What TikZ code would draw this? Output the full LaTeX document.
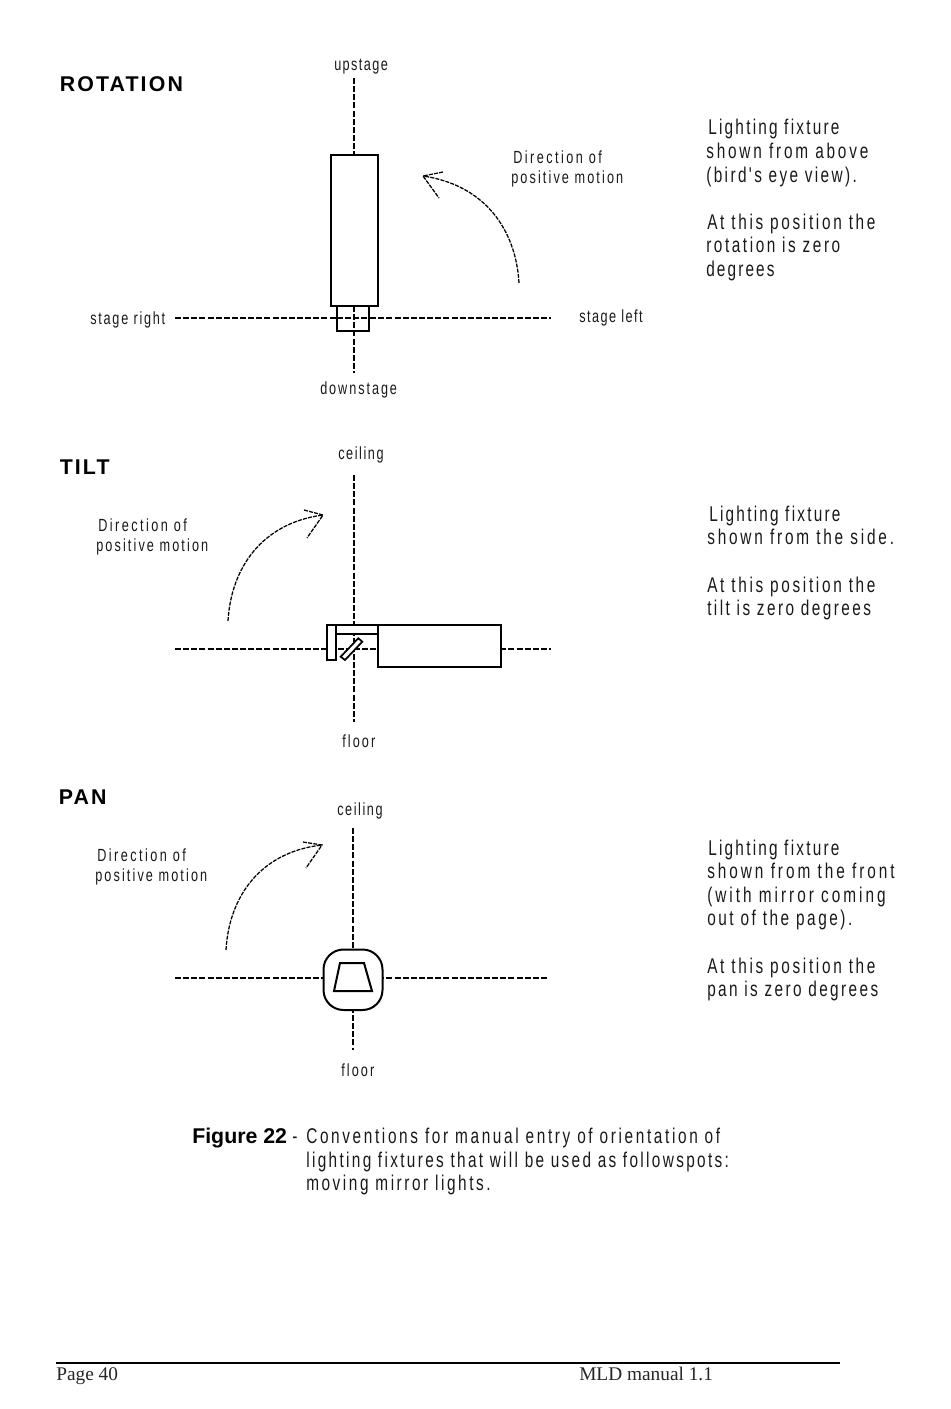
\documentclass[tikz,border=0pt]{standalone}
\usepackage{fontspec}
\setmainfont{Liberation Sans}
\newfontfamily\narrowlab[FakeStretch=0.72,LetterSpace=12]{Liberation Sans}
\newfontfamily\headlab[LetterSpace=10]{Liberation Sans}
\newfontfamily\footlab{Liberation Serif}
\tikzset{
  small/.style={font=\narrowlab\fontsize{13.2pt}{15pt}\selectfont\addfontfeature{LetterSpace=#1},anchor=base west,inner sep=0pt,text=black!90},
  small/.default=12,
  big/.style={font=\narrowlab\fontsize{16pt}{18pt}\selectfont\addfontfeature{LetterSpace=#1},anchor=base west,inner sep=0pt,text=black!90},
  big/.default=12,
  head/.style={font=\headlab\bfseries\fontsize{16pt}{18pt}\selectfont,anchor=base west,inner sep=0pt},
  foot/.style={font=\footlab\fontsize{14.5pt}{16pt}\selectfont,anchor=base west,inner sep=0pt,text=black!85},
  axis/.style={line width=0.9pt,dash pattern=on 4.5pt off 1.6pt},
  motion/.style={line width=0.95pt,dash pattern=on 3pt off 0.9pt},
  part/.style={line width=1.5pt,draw=black,fill=white},
}
\begin{document}
\begin{tikzpicture}[x=0.75pt,y=-0.75pt]
\useasboundingbox (0,0) rectangle (950,1409);
% ROTATION
\node[head] (hrot) at (59.5,91.5) {ROTATION};
\node[small=8] (up) at (334,70.5) {upstage};
\node[small=11] (dn) at (320,394.5) {downstage};
\node[small=10] (sr) at (90,324.5) {stage right};
\node[small=8.5] (sl) at (579,322.5) {stage left};
\node[small=14] (d1a) at (513,163.5) {Direction of};
\node[small] (d1b) at (511,183.5) {positive motion};
\coordinate (rt) at (354,78);
\coordinate (rb) at (354,373);
\coordinate (rl) at (175,318);
\coordinate (rr) at (551,318);
\draw[axis] (rl) -- (rr);
\draw[axis] (rt) -- (354,155);
\draw[part] (337,306) rectangle (369,331);
\draw[part] (330.5,155) rectangle (378,305.5);
\draw[line width=2.2pt] (337,306) -- (369,306);
\draw[axis] (354,306) -- (rb);
\draw[axis] (337,318) -- (369,318);
\coordinate (a1s) at (519,283);
\coordinate (a1e) at (423,176);
\coordinate (a1u) at (443,172);
\coordinate (a1d) at (439,198);
\draw[motion] (a1s) .. controls (516,230) and (485,185) .. (a1e);
\draw[motion] (a1u) -- (a1e) -- (a1d);
\node[big=10.5] (t1a) at (708,135) {Lighting fixture};
\node[big=13.2] (t1b) at (706,158.5) {shown from above};
\node[big=11.2] (t1c) at (706,182) {(bird's eye view).};
\node[big=12.5] (t1d) at (707,229) {At this position the};
\node[big] (t1e) at (706,252.5) {rotation is zero};
\node[big=10] (t1f) at (706,276) {degrees};
% TILT
\node[head] (htilt) at (59.5,474) {TILT};
\node[small=9] (cl1) at (338,459.5) {ceiling};
\node[small] (fl1) at (342,747.5) {floor};
\node[small=14] (d2a) at (98,531.5) {Direction of};
\node[small] (d2b) at (96,551.5) {positive motion};
\coordinate (tt) at (354,475);
\coordinate (tb) at (354,722);
\coordinate (tl) at (175,649);
\coordinate (tr) at (551,649);
\draw[axis] (tl) -- (tr);
\draw[axis] (tt) -- (tb);
\draw[part,fill=none] (336,634) -- (378,634);
\draw[part] (378,625) rectangle (501,666.5);
\draw[part] (336,625) rectangle (378,634);
\draw[part] (327,625) rectangle (335.5,660);
\draw[part,line width=1.3pt] (340.7,656.7) -- (345,660) -- (362.3,641.7) -- (358.3,638.3) -- cycle;
\coordinate (a2s) at (228,621);
\coordinate (a2e) at (323,515);
\coordinate (a2u) at (304,510);
\coordinate (a2d) at (307,538);
\draw[motion] (a2s) .. controls (231,568) and (262,523) .. (a2e);
\draw[motion] (a2u) -- (a2e) -- (a2d);
\node[big=10.5] (t2a) at (709,521) {Lighting fixture};
\node[big=13.2] (t2b) at (707,544.5) {shown from the side.};
\node[big=12.5] (t2c) at (707,592) {At this position the};
\node[big=11.5] (t2d) at (707,615.5) {tilt is zero degrees};
% PAN
\node[head] (hpan) at (58.5,804) {PAN};
\node[small=9] (cl2) at (337,815.5) {ceiling};
\node[small] (fl2) at (341,1076.5) {floor};
\node[small=14] (d3a) at (97,861.5) {Direction of};
\node[small] (d3b) at (95,881.5) {positive motion};
\coordinate (pt) at (353,828);
\coordinate (pb) at (353,1050);
\coordinate (pl) at (175,978);
\coordinate (pr) at (549,978);
\draw[axis] (pl) -- (pr);
\draw[axis] (pt) -- (pb);
\draw[part,rounded corners=15pt] (323.5,949.5) rectangle (382.5,1010);
\draw[part] (340,963) -- (364,963) -- (372,991) -- (334,991) -- cycle;
\coordinate (a3s) at (226,950);
\coordinate (a3e) at (322,845);
\coordinate (a3u) at (303,842);
\coordinate (a3d) at (306,868);
\draw[motion] (a3s) .. controls (229,897) and (260,852) .. (a3e);
\draw[motion] (a3u) -- (a3e) -- (a3d);
\node[big=10.5] (t3a) at (708,855) {Lighting fixture};
\node[big=13.9] (t3b) at (707,878.5) {shown from the front};
\node[big=14] (t3c) at (707,902) {(with mirror coming};
\node[big] (t3d) at (707,925.5) {out of the page).};
\node[big=12.5] (t3e) at (707,973) {At this position the};
\node[big=11.3] (t3f) at (707,996.5) {pan is zero degrees};
% Caption
\node[font=\bfseries\fontsize{16pt}{18pt}\selectfont,anchor=base west,inner sep=0pt] (fig) at (192,1143) {Figure 22};
\node[big] (dash) at (292,1143) {-};
\node[big=12.4] (c1) at (306,1143) {Conventions for manual entry of orientation of};
\node[big=11] (c2) at (306,1167) {lighting fixtures that will be used as followspots:};
\node[big] (c3) at (306,1190.5) {moving mirror lights.};
% Footer
\coordinate (fl) at (56,1363);
\coordinate (fr) at (840,1363);
\draw[line width=1.5pt] (fl) -- (fr);
\node[foot] (pg) at (56,1380) {Page 40};
\node[foot] (man) at (579,1380) {MLD manual 1.1};
\end{tikzpicture}
\end{document}
